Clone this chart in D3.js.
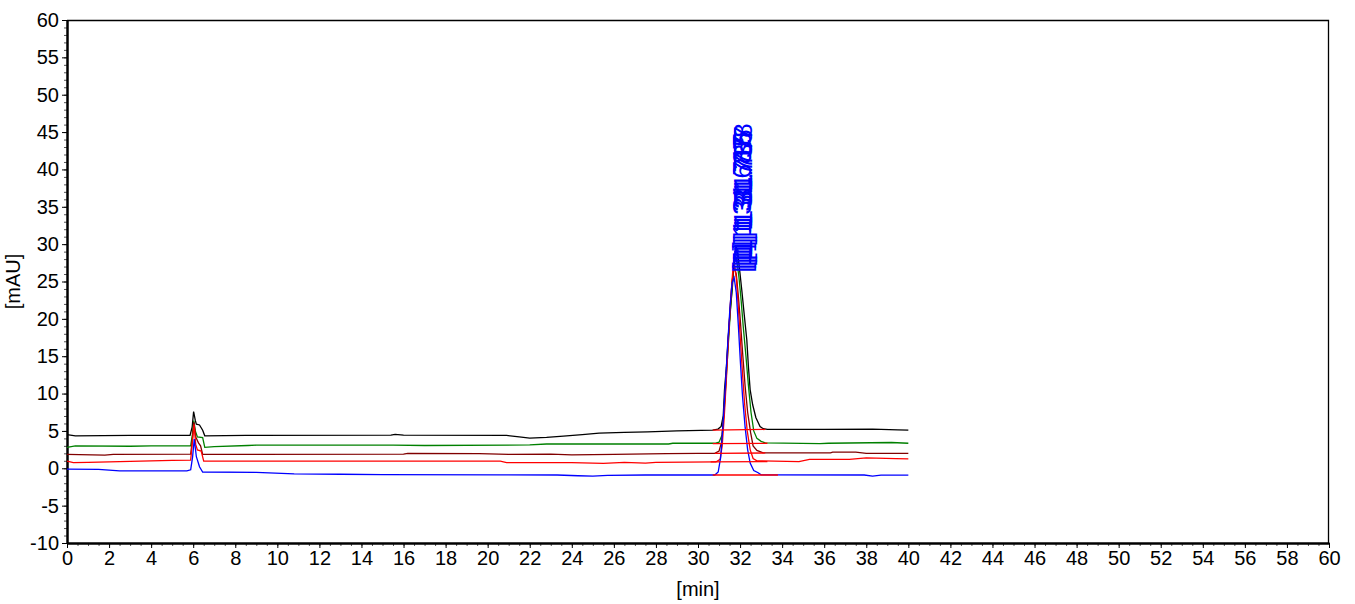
<!DOCTYPE html>
<html>
<head>
<meta charset="utf-8">
<script src="https://cdn.jsdelivr.net/npm/d3@7"></script>
<style>
  body { margin: 0; background: #fff; }
  text { font-family: "Liberation Sans", Arial, sans-serif; }
</style>
</head>
<body>
<script>
// chromatogram traces, [time (min), signal (mAU)]
var blackTrace = [[0,4.5],[0.4,4.35],[3.0,4.4],[5.85,4.4],[5.95,5.5],[6.02,7.6],[6.1,6.4],[6.15,5.9],[6.3,5.8],[6.45,5.1],[6.55,4.35],
  [8.5,4.4],[15.4,4.45],[15.6,4.55],[16.0,4.45],[20.9,4.4],[21.5,4.2],[22.0,4.05],[22.8,4.15],[23.6,4.3],[24.5,4.5],[25.3,4.7],
  [26.5,4.8],[27.6,4.86],[29.0,5.0],[30.7,5.1],[30.95,5.25],[31.1,5.6],[31.2,7.0],[31.26,10.5],[31.35,13.5],[31.43,17.2],
  [31.53,21],[31.63,24],[31.72,28],[31.8,29.8],[31.9,28.5],[32.0,26],[32.08,23.9],[32.2,20.5],[32.32,17.2],[32.4,13.5],
  [32.48,10.5],[32.6,8.5],[32.75,6.8],[32.95,5.6],[33.1,5.3],[33.3,5.2],[36,5.2],[38.3,5.25],[39.5,5.15],[40,5.1]];

var greenTrace = [[0,2.8],[0.4,3.0],[3.0,2.95],[4.0,3.0],[5.88,3.0],[5.96,4.5],[6.03,6.4],[6.1,5.0],[6.2,4.2],[6.45,4.1],[6.55,2.8],
  [7.0,2.9],[8.6,3.05],[9.0,3.1],[15.5,3.1],[17.0,3.05],[22.0,3.12],[22.8,3.25],[28.6,3.25],[28.8,3.35],[30.8,3.35],
  [31.0,3.5],[31.15,4.5],[31.25,8],[31.35,12.5],[31.45,17],[31.55,21.5],[31.65,25.5],[31.75,28.3],[31.85,27.8],[31.95,25.5],
  [32.05,22.5],[32.15,19],[32.28,15],[32.4,11],[32.52,7.5],[32.65,5],[32.8,4.0],[33.0,3.6],[33.2,3.4],[35.8,3.3],[36.2,3.35],
  [39.2,3.45],[40,3.35]];

var darkRedTrace = [[0,1.85],[1.8,1.75],[2.2,1.85],[5.88,1.9],[5.96,3.8],[6.03,6.2],[6.12,4.2],[6.25,3.4],[6.35,3.0],[6.45,1.85],
  [16.0,1.9],[16.2,2.0],[19.6,1.95],[21.0,1.85],[23.0,1.9],[24.0,1.8],[26.0,1.85],[28.5,1.95],[30.0,2.0],[30.8,2.0],
  [31.0,2.3],[31.12,3.5],[31.22,7],[31.32,11.5],[31.42,16.5],[31.52,21],[31.62,25],[31.72,27],[31.82,26],[31.92,23],
  [32.02,19.5],[32.12,15.5],[32.24,11],[32.36,7.5],[32.5,4.8],[32.62,3.0],[32.8,2.4],[33.1,2.05],[36.3,2.05],[36.4,2.15],
  [37.5,2.15],[38,2.0],[40,2.0]];

var redTrace = [[0,0.95],[0.3,0.75],[1.0,0.8],[2.5,0.9],[3.5,0.95],[5.0,1.05],[5.88,1.1],[5.96,3.5],[6.04,5.9],[6.12,3.2],
  [6.2,2.45],[6.38,2.3],[6.5,0.95],[20.6,0.95],[20.9,0.75],[24.0,0.75],[25.5,0.65],[26.5,0.78],[27.5,0.7],[28.0,0.78],
  [30.85,0.85],[31.05,1.2],[31.15,3.0],[31.25,7],[31.35,12],[31.45,17.5],[31.55,22.5],[31.65,26.3],[31.72,27.3],[31.82,25.5],
  [31.92,21.5],[32.02,17],[32.12,12.5],[32.22,8.5],[32.34,5],[32.48,2.5],[32.62,1.3],[32.8,1.0],[34.8,0.9],[35.3,1.2],
  [37.2,1.2],[38.0,1.4],[39.4,1.3],[40,1.25]];

var blueTrace = [[0,-0.1],[1.5,-0.15],[2.5,-0.35],[5.7,-0.35],[5.88,-0.2],[5.97,1.5],[6.05,3.9],[6.15,1.55],[6.3,0.2],[6.45,-0.5],
  [9.0,-0.55],[10.8,-0.75],[13.0,-0.8],[15.0,-0.85],[20.6,-0.88],[23.3,-0.9],[24.3,-1.0],[25.0,-1.05],[25.7,-0.95],[27.5,-0.9],
  [30.8,-0.9],[30.96,-0.5],[31.08,1.5],[31.18,5.5],[31.3,11],[31.42,17],[31.52,21.5],[31.62,24.8],[31.72,25.5],[31.82,23.5],
  [31.92,19],[32.02,14],[32.12,9.5],[32.24,5.5],[32.36,2.5],[32.48,0.7],[32.65,-0.3],[32.86,-0.6],[33.0,-0.88],[37.9,-0.9],
  [38.3,-1.05],[38.7,-0.92],[40,-0.92]];

// integration baselines under the main peak: [start t, start v, end t, end v]
var peakBaselines = [[30.7,5.1,33.2,5.2],[30.7,3.3,33.3,3.35],[30.8,2.0,33.2,2.05],[30.6,0.85,33.3,0.9],[30.7,-0.9,33.8,-0.9]];

// peak labels
var peakTimes = [31.70, 31.72, 31.74, 31.76, 31.78];
var peakLabels = ["[1]  1  31.687", "[1]  1  31.715", "[1]  1  31.735", "[1]  1  31.757", "[1]  1  31.778"];

var xTicks = d3.range(0, 61, 2);
var yTicks = d3.range(-10, 61, 5);

var svgWidth = 1355, svgHeight = 604;
var margin = { top: 20, right: 26, bottom: 61, left: 67 };
var chartwidth = svgWidth - margin.left - margin.right;
var chartheight = svgHeight - margin.top - margin.bottom;

var svg = d3.select("body").append("svg")
  .attr("width", svgWidth)
  .attr("height", svgHeight);

var chartGroup = svg.append("g")
  .attr("transform", `translate(${margin.left}, ${margin.top})`);

var xScale = d3.scaleLinear().domain([0, 60]).range([0, chartwidth]);
var yScale = d3.scaleLinear().domain([-10, 60]).range([chartheight, 0]);

// frame (top and right)
chartGroup.append("path")
  .attr("d", `M0,0.5H${chartwidth - 0.5}V${chartheight}`)
  .attr("fill", "none")
  .attr("stroke", "#000")
  .attr("stroke-width", 1.3);

// minor ticks
var xMinor = d3.axisBottom(xScale).tickValues(d3.range(0, 60.01, 0.5)).tickSize(3).tickFormat("");
var yMinor = d3.axisLeft(yScale).tickValues(d3.range(-10, 60.01, 1)).tickSize(3).tickFormat("");

chartGroup.append("g").attr("transform", `translate(0, ${chartheight})`).call(xMinor)
  .call(g => g.select(".domain").remove())
  .selectAll("line").attr("stroke", "#555");
chartGroup.append("g").call(yMinor)
  .call(g => g.select(".domain").remove())
  .selectAll("line").attr("stroke", "#555");

// major axes (plain hyphen for negatives)
var bottomAxis = d3.axisBottom(xScale).tickValues(xTicks).tickSize(5).tickSizeOuter(0).tickPadding(3);
var leftAxis = d3.axisLeft(yScale).tickValues(yTicks).tickSize(5).tickSizeOuter(0).tickPadding(3)
  .tickFormat(d => String(d));

var xg = chartGroup.append("g")
  .attr("transform", `translate(0, ${chartheight})`)
  .call(bottomAxis);
var yg = chartGroup.append("g").call(leftAxis);

[xg, yg].forEach(function(g) {
  g.select(".domain").attr("stroke-width", 2.5);
  g.selectAll("text").attr("font-size", 20).attr("fill", "#000")
    .attr("font-family", "'Liberation Sans', Arial, sans-serif");
});

// traces
var line = d3.line()
  .x(d => xScale(d[0]))
  .y(d => yScale(d[1]));

var traces = [
  { data: blackTrace, color: "#000000" },
  { data: greenTrace, color: "#008000" },
  { data: darkRedTrace, color: "#800000" },
  { data: redTrace, color: "#ff0000" },
  { data: blueTrace, color: "#0000ff" }
];

chartGroup.selectAll(".trace")
  .data(traces)
  .enter()
  .append("path")
  .attr("class", "trace")
  .attr("d", d => line(d.data))
  .attr("fill", "none")
  .attr("stroke", d => d.color)
  .attr("stroke-width", 1.3);

// peak baselines
chartGroup.selectAll(".pbase")
  .data(peakBaselines)
  .enter()
  .append("line")
  .attr("class", "pbase")
  .attr("x1", d => xScale(d[0]))
  .attr("y1", d => yScale(d[1]))
  .attr("x2", d => xScale(d[2]))
  .attr("y2", d => yScale(d[3]))
  .attr("stroke", "#ff0000")
  .attr("stroke-width", 1.3);

// peak labels (rotated)
chartGroup.selectAll(".plabel")
  .data(peakLabels)
  .enter()
  .append("text")
  .attr("class", "plabel")
  .attr("transform", (d, i) => `translate(${xScale(peakTimes[i]) + 17}, ${yScale(26.2) - i * 3}) rotate(-90)`)
  .attr("fill", "#0000ff")
  .attr("font-size", 26)
  .text(d => d);

// axis titles
chartGroup.append("text")
  .attr("x", chartwidth / 2)
  .attr("y", chartheight + 53)
  .attr("text-anchor", "middle")
  .attr("font-size", 20)
  .text("[min]");

chartGroup.append("text")
  .attr("transform", "rotate(-90)")
  .attr("x", -chartheight / 2)
  .attr("y", -47)
  .attr("text-anchor", "middle")
  .attr("font-size", 20)
  .text("[mAU]");
</script>
</body>
</html>
